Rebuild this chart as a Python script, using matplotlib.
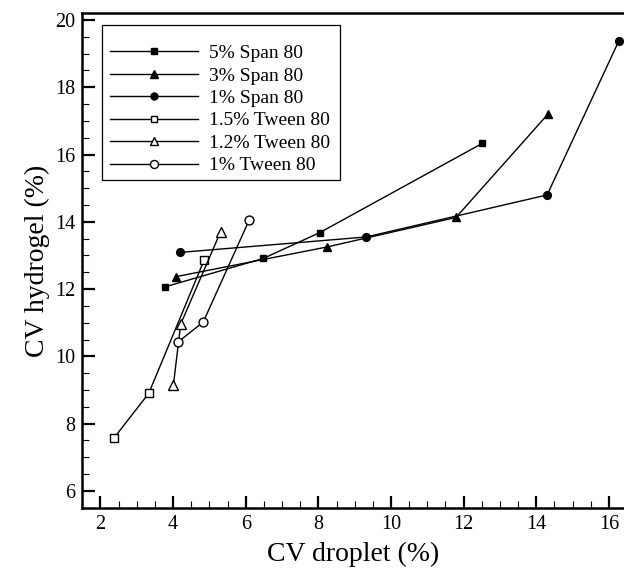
import matplotlib
matplotlib.use("Agg")
import matplotlib.pyplot as plt
from matplotlib.ticker import MultipleLocator
from matplotlib.patches import Rectangle

plt.rcParams['font.family'] = ['Liberation Serif', 'DejaVu Serif']

labels = ["5% Span 80", "3% Span 80", "1% Span 80",
          "1.5% Tween 80", "1.2% Tween 80", "1% Tween 80"]

span5_x = [3.79, 6.48, 8.04, 12.51]
span5_y = [12.07, 12.91, 13.68, 16.33]
span3_x = [4.08, 8.23, 11.79, 14.32]
span3_y = [12.37, 13.25, 14.13, 17.20]
span1_x = [4.19, 9.32, 14.30, 16.27]
span1_y = [13.09, 13.55, 14.80, 19.37]
tween15_x = [2.37, 3.33, 4.85]
tween15_y = [7.57, 8.90, 12.85]
tween12_x = [4.01, 4.21, 5.31]
tween12_y = [9.16, 10.96, 13.71]
tween1_x = [4.14, 4.83, 6.09]
tween1_y = [10.43, 11.02, 14.04]

series = [(span5_x, span5_y), (span3_x, span3_y), (span1_x, span1_y),
          (tween15_x, tween15_y), (tween12_x, tween12_y), (tween1_x, tween1_y)]
markers = ['s', '^', 'o', 's', '^', 'o']
fills = ['black', 'black', 'black', 'white', 'white', 'white']
sizes = [4.8, 6.2, 5.6, 5.4, 7.0, 6.4]

fig = plt.figure(figsize=(6.24, 5.74), dpi=100)
ax = fig.add_axes([82.3/624, (574-507.7)/574, (624.5-82.3)/624, (507.7-13.3)/574])

for (x, y), m, f, s, lab in zip(series, markers, fills, sizes, labels):
    ax.plot(x, y, color='black', lw=1.0, marker=m, markersize=s,
            markerfacecolor=f, markeredgecolor='black', markeredgewidth=1.0,
            label=lab)

ax.set_xlim(1.5, 16.43)
ax.set_ylim(5.5, 20.2)
ax.xaxis.set_major_locator(MultipleLocator(2))
ax.xaxis.set_minor_locator(MultipleLocator(0.5))
ax.yaxis.set_major_locator(MultipleLocator(2))
ax.yaxis.set_minor_locator(MultipleLocator(0.5))
ax.tick_params(which='major', direction='in', length=9, width=1.6, labelsize=14.5, pad=5)
ax.tick_params(which='minor', direction='in', length=5, width=0.8)
ax.tick_params(top=False, right=False, which='both')
for sp in ['left', 'bottom', 'top']:
    ax.spines[sp].set_linewidth(1.8)
ax.spines['right'].set_visible(False)

ax.set_xlabel("CV droplet (%)", fontsize=20, labelpad=6)
ax.set_ylabel("CV hydrogel (%)", fontsize=20, labelpad=4)

# legend frame
ax.add_patch(Rectangle((0.0369, 0.6628), 0.4753 - 0.0369, 0.9757 - 0.6628,
                       transform=ax.transAxes, facecolor='white', edgecolor='black',
                       linewidth=0.9, zorder=4))
leg = ax.legend(loc='upper left', bbox_to_anchor=(0.0511, 0.937), borderaxespad=0,
                fontsize=14, labelspacing=0.25, handlelength=4.5, handletextpad=0.6,
                borderpad=0, frameon=False, markerscale=0.9)
leg.set_zorder(5)

fig.savefig("out.png", dpi=100)
